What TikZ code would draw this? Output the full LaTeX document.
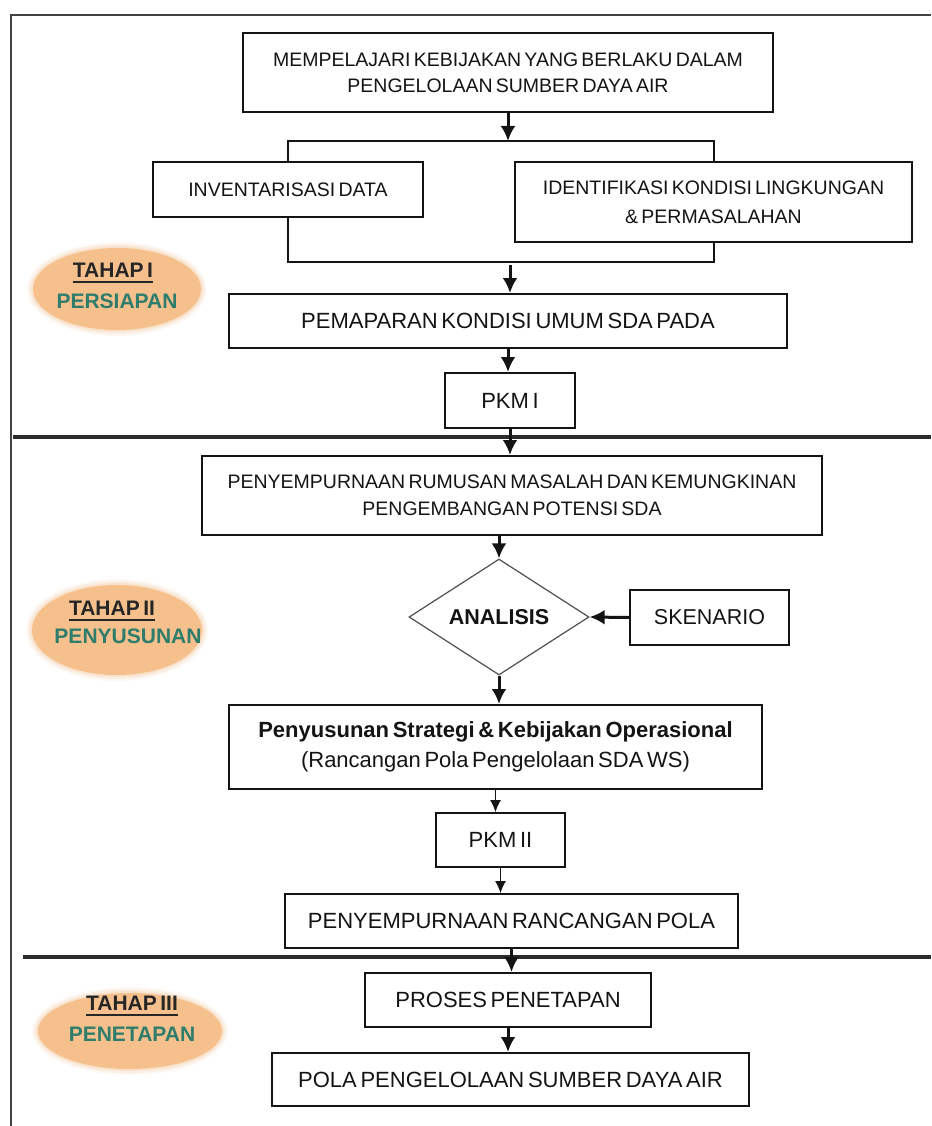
\documentclass[tikz,border=0pt]{standalone}
\usepackage{fontspec}
\setmainfont{Liberation Sans}[WordSpace=0.6]
\usetikzlibrary{arrows.meta,shapes.geometric}

\definecolor{ink}{HTML}{141414}
\definecolor{peach}{HTML}{F5C08C}
\definecolor{phasegreen}{HTML}{2E7D6C}
\definecolor{tahapgray}{HTML}{262626}

\tikzset{
  box/.style={draw=ink, line width=2pt, rectangle, inner sep=0pt, align=center, text=ink},
  fs/.style={font=\fontsize{#1}{26}\selectfont},
  arr/.style={draw=ink, line width=3pt, -{Latex[length=15pt,width=15pt]}},
  thinarr/.style={draw=ink, line width=1.1pt, -{Latex[length=12pt,width=11pt]}},
  wire/.style={draw=ink, line width=2pt},
  sepline/.style={draw=ink!90, line width=3.5pt},
  tahap/.style={inner sep=0pt, text=tahapgray, font=\fontsize{21}{24}\selectfont\bfseries},
  phase/.style={inner sep=0pt, text=phasegreen, font=\fontsize{21}{24}\selectfont\bfseries},
}

\begin{document}
\begin{tikzpicture}[x=1pt, y=-1pt]
\fill[white] (0,0) rectangle (931,1126);
\useasboundingbox (0,0) rectangle (931,1126);

% outer frame (top and left edges)
\draw[draw=ink!80, line width=2pt] (931,15) -- (10.5,15) -- (10.5,1126);

% stage separators
\draw[sepline] (13,437) -- (931,437);
\draw[sepline] (23,957) -- (931,957);

% soft peach stage badges
\foreach \cx/\cy/\rx/\ry in {117/289/84/41, 117/630/85/45, 130/1031/92/38}{
  \foreach \k/\op in {6/0.1, 4/0.15, 2/0.25, 0/1}{
    \fill[peach, opacity=\op] (\cx,\cy) ellipse [x radius=\rx pt+\k pt, y radius=\ry pt+\k pt];
  }
}

\node[tahap] (t1) at (113,270) {TAHAP I};
\draw[tahapgray, line width=1.6pt] ([yshift=-5pt]t1.base west) -- ([yshift=-5pt]t1.base east);
\node[phase] (p1) at (117,301) {PERSIAPAN};

\node[tahap] (t2) at (112,608) {TAHAP II};
\draw[tahapgray, line width=1.6pt] ([yshift=-5pt]t2.base west) -- ([yshift=-5pt]t2.base east);
\node[phase] (p2) at (128,636) {PENYUSUNAN};

\node[tahap] (t3) at (132,1003) {TAHAP III};
\draw[tahapgray, line width=1.6pt] ([yshift=-5pt]t3.base west) -- ([yshift=-5pt]t3.base east);
\node[phase] (p3) at (132,1034) {PENETAPAN};

% stage I
\node[box, minimum width=530pt, minimum height=79pt, fs=19.5] (top) at (508,72.5)
  {MEMPELAJARI KEBIJAKAN YANG BERLAKU DALAM\\PENGELOLAAN SUMBER DAYA AIR};
\node[box, minimum width=270pt, minimum height=55pt, fs=19.5] (inv) at (288,189.5)
  {INVENTARISASI DATA};
\node[box, minimum width=397pt, minimum height=80pt, font=\fontsize{19.5}{29}\selectfont] (idf) at (713.5,202)
  {IDENTIFIKASI KONDISI LINGKUNGAN\\\& PERMASALAHAN};
\node[box, minimum width=558pt, minimum height=54pt, fs=22] (pem) at (508,321)
  {PEMAPARAN KONDISI UMUM SDA PADA};
\node[box, minimum width=130pt, minimum height=55pt, fs=22] (pkm1) at (510,400.5)
  {PKM I};

% stage II
\node[box, minimum width=620pt, minimum height=79pt, font=\fontsize{19.5}{27}\selectfont] (rum) at (512,495.5)
  {PENYEMPURNAAN RUMUSAN MASALAH DAN KEMUNGKINAN\\PENGEMBANGAN POTENSI SDA};
\node[diamond, draw=ink!75, line width=1.2pt, minimum width=180pt, minimum height=116pt,
      inner sep=0pt, shape aspect=1.55, text=ink, font=\fontsize{21.5}{24}\selectfont\bfseries] (ana) at (499,617)
  {ANALISIS};
\node[box, line width=2.4pt, minimum width=159pt, minimum height=55pt, fs=21.5] (sken) at (709.5,617.5)
  {SKENARIO};
\node[box, minimum width=533pt, minimum height=84pt, font=\fontsize{22}{30}\selectfont] (strat) at (495.5,747)
  {\textbf{Penyusunan Strategi \& Kebijakan Operasional}\\(Rancangan Pola Pengelolaan SDA WS)};
\node[box, minimum width=129pt, minimum height=54pt, fs=22] (pkm2) at (500.5,840)
  {PKM II};
\node[box, minimum width=453pt, minimum height=54pt, fs=22] (rpola) at (511.5,921)
  {PENYEMPURNAAN RANCANGAN POLA};

% stage III
\node[box, minimum width=286pt, minimum height=54pt, fs=22] (proses) at (508,1000)
  {PROSES PENETAPAN};
\node[box, minimum width=477pt, minimum height=53pt, fs=22] (pola) at (510.5,1079.5)
  {POLA PENGELOLAAN SUMBER DAYA AIR};

% split and join brackets
\coordinate (splitT) at (508,141);
\coordinate (joinB) at (510,262);
\draw[arr] (top.south) -- (splitT);
\draw[wire] (inv.north) |- (splitT) -| (idf.north);
\draw[wire] (inv.south) |- (joinB) -| (idf.south);

% flow arrows
\draw[arr] ([yshift=-3pt]joinB) -- (pem.north -| joinB);
\draw[arr] (pem.south) -- (pem.south |- pkm1.north);
\draw[arr] (pkm1.south) -- (pkm1.south |- rum.north);
\draw[arr] (ana.north |- rum.south) -- (ana.north);
\draw[arr] (sken.west) -- (ana.east);
\draw[arr] (ana.south) -- (ana.south |- strat.north);
\draw[thinarr] (strat.south) -- (strat.south |- pkm2.north);
\draw[thinarr] (pkm2.south) -- (pkm2.south |- rpola.north);
\draw[arr] (rpola.south) -- (rpola.south |- proses.north);
\draw[arr] (proses.south) -- (proses.south |- pola.north);
\end{tikzpicture}
\end{document}
